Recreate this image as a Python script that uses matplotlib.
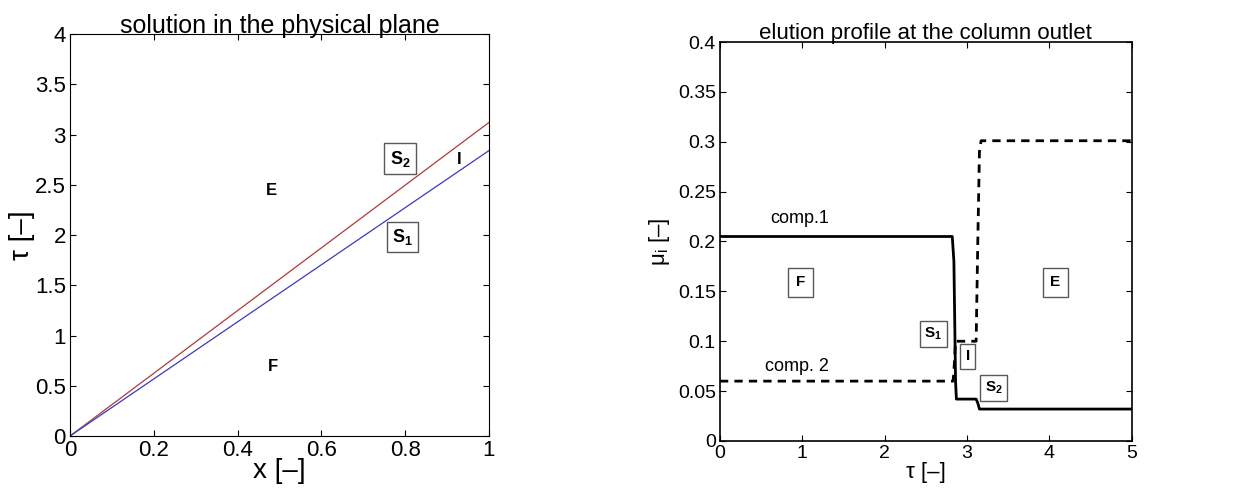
import matplotlib
matplotlib.use("Agg")
import matplotlib.pyplot as plt

plt.rcParams['font.family'] = ['Liberation Sans', 'DejaVu Sans']
plt.rcParams['mathtext.fontset'] = 'custom'
plt.rcParams['mathtext.rm'] = 'Liberation Sans'
plt.rcParams['mathtext.it'] = 'Liberation Sans'
plt.rcParams['mathtext.bf'] = 'Liberation Sans:bold'

# characteristic lines in the x-tau plane
x_line = [0.0, 1.0]
tau_s2 = [0.0, 3.12]
tau_s1 = [0.0, 2.84]

# outlet profiles
tau_c1 = [0.0, 2.82, 2.84, 2.86, 2.87, 3.11, 3.13, 3.15, 5.0]
mu_c1 = [0.205, 0.205, 0.18, 0.06, 0.042, 0.042, 0.038, 0.032, 0.032]
tau_c2 = [0.0, 2.83, 2.84, 2.86, 3.11, 3.13, 3.15, 3.17, 5.0]
mu_c2 = [0.06, 0.06, 0.07, 0.10, 0.10, 0.20, 0.29, 0.301, 0.301]

fig = plt.figure(figsize=(12.37, 5.03), dpi=100)
ax1 = fig.add_axes([0.0566, 0.1332, 0.3387, 0.7992])
ax2 = fig.add_axes([0.582, 0.1233, 0.333, 0.7932])

box_l = dict(boxstyle='square,pad=0.3', fc='white', ec='0.35', lw=1.0)
box_r = dict(boxstyle='square,pad=0.5', fc='white', ec='0.35', lw=1.0)
box_i = dict(boxstyle='square,pad=0.35', fc='white', ec='0.35', lw=1.0)

# left: physical plane
ax1.plot(x_line, tau_s2, color='#b03a3a', lw=0.9)
ax1.plot(x_line, tau_s1, color='#3a3ac0', lw=0.9)
ax1.set_xlim(0, 1)
ax1.set_ylim(0, 4)
ax1.set_xticks([0, 0.2, 0.4, 0.6, 0.8, 1])
ax1.set_xticklabels(['0', '0.2', '0.4', '0.6', '0.8', '1'])
ax1.set_yticks([0, 0.5, 1, 1.5, 2, 2.5, 3, 3.5, 4])
ax1.set_yticklabels(['0', '0.5', '1', '1.5', '2', '2.5', '3', '3.5', '4'])
ax1.tick_params(direction='in', top=True, right=True, labelsize=16, length=4, pad=3)
ax1.set_title('solution in the physical plane', fontsize=18, pad=1)
ax1.set_xlabel('x [–]', fontsize=20, labelpad=-2)
ax1.set_ylabel('τ [–]', fontsize=20, labelpad=0)
ax1.text(0.481, 2.44, 'E', fontsize=12, fontweight='bold', ha='center', va='center')
ax1.text(0.485, 0.69, 'F', fontsize=12, fontweight='bold', ha='center', va='center')
ax1.text(0.929, 2.75, 'I', fontsize=12, fontweight='bold', ha='center', va='center')
ax1.text(0.788, 2.76, r'$\mathbf{S_2}$', fontsize=13, ha='center', va='center', bbox=box_l)
ax1.text(0.794, 1.98, r'$\mathbf{S_1}$', fontsize=13, ha='center', va='center', bbox=box_l)

# right: elution profile
ax2.plot(tau_c1, mu_c1, color='black', lw=2)
ax2.plot(tau_c2, mu_c2, color='black', lw=2, ls=(0, (3, 2.2)))
ax2.set_xlim(0, 5)
ax2.set_ylim(0, 0.4)
ax2.set_xticks([0, 1, 2, 3, 4, 5])
ax2.set_yticks([0, 0.05, 0.1, 0.15, 0.2, 0.25, 0.3, 0.35, 0.4])
ax2.set_yticklabels(['0', '0.05', '0.1', '0.15', '0.2', '0.25', '0.3', '0.35', '0.4'])
ax2.tick_params(direction='in', top=True, right=True, labelsize=14, length=4, pad=3)
for sp in ax2.spines.values():
    sp.set_linewidth(1.2)
ax2.set_title('elution profile at the column outlet', fontsize=16, pad=2)
ax2.set_xlabel('τ [–]', fontsize=16, labelpad=0)
ax2.set_ylabel(r'$\mathrm{\mu_i}$ [–]', fontsize=16, labelpad=4)
ax2.text(0.97, 0.215, 'comp.1', fontsize=13, ha='center', va='bottom')
ax2.text(0.94, 0.066, 'comp. 2', fontsize=13, ha='center', va='bottom')
ax2.text(0.98, 0.159, 'F', fontsize=11, fontweight='bold', ha='center', va='center', bbox=box_r)
ax2.text(4.07, 0.159, 'E', fontsize=11, fontweight='bold', ha='center', va='center', bbox=box_r)
ax2.text(2.59, 0.107, r'$\mathbf{S_1}$', fontsize=11, ha='center', va='center', bbox=box_l)
ax2.text(3.01, 0.085, 'I', fontsize=11, fontweight='bold', ha='center', va='center', bbox=box_i)
ax2.text(3.32, 0.053, r'$\mathbf{S_2}$', fontsize=11, ha='center', va='center', bbox=box_l)

fig.savefig('out.png', dpi=100)
